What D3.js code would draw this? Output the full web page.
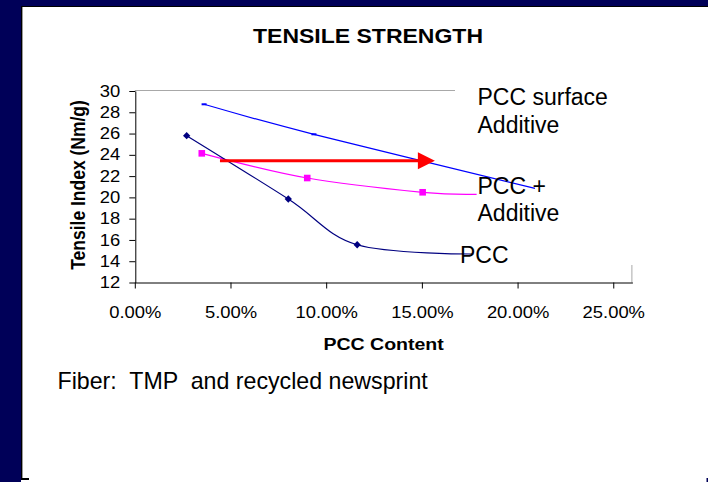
<!DOCTYPE html>
<html>
<head>
<meta charset="utf-8">
<script src="https://cdn.jsdelivr.net/npm/d3@7"></script>
<style>
  html, body { margin: 0; padding: 0; background: #fff; }
  svg { display: block; }
  text { font-family: "Liberation Sans", Arial, Helvetica, sans-serif; fill: #000; }
</style>
</head>
<body>
<svg id="chart" width="708" height="482"></svg>
<script>
// Tensile index (Nm/g) versus PCC content (fraction of furnish)
const xTicks = [0, 0.05, 0.10, 0.15, 0.20, 0.25];
const yTicks = [12, 14, 16, 18, 20, 22, 24, 26, 28, 30];

const pccX = [0.0271, 0.0802, 0.1162, 0.1769];
const pccY = [25.8, 19.85, 15.55, 14.68];

const additiveX = [0.035, 0.0901, 0.1504, 0.1786];
const additiveY = [24.14, 21.82, 20.48, 20.29];

const surfaceX = [0.0362, 0.0936, 0.2091];
const surfaceY = [28.75, 25.93, 20.85];

// Horizontal arrow: same tensile index reached at a higher PCC content
const arrowFrom = [0.0445, 23.45];
const arrowTo = [0.1568, 23.45];

const svg = d3.select("#chart");
const W = 708, H = 482;
const STRETCH = 1.15; // chart text is set slightly wide

// slide background and frame
svg.append("rect").attr("width", W).attr("height", H).attr("fill", "#fff");
svg.append("rect").attr("x", 0).attr("y", 0).attr("width", W).attr("height", 6).attr("fill", "#000058");
svg.append("rect").attr("x", 0).attr("y", 0).attr("width", 21).attr("height", H).attr("fill", "#000058");
svg.append("line").attr("x1", 21).attr("x2", W).attr("y1", 6.5).attr("y2", 6.5).attr("stroke", "#000").attr("stroke-width", 1);
svg.append("line").attr("x1", 21.5).attr("x2", 21.5).attr("y1", 6).attr("y2", 480).attr("stroke", "#000").attr("stroke-width", 1);
svg.append("line").attr("x1", 22.5).attr("x2", 22.5).attr("y1", 7).attr("y2", 478).attr("stroke", "#9a9a9a").attr("stroke-width", 1);
svg.append("rect").attr("x", 21).attr("y", 478).attr("width", 8).attr("height", 2).attr("fill", "#000");
svg.append("rect").attr("x", 706.5).attr("y", 478).attr("width", 1.5).attr("height", 4).attr("fill", "#000058");

const x = d3.scaleLinear().domain([0, 0.26]).range([134.8, 632.4]);
const y = d3.scaleLinear().domain([12, 30]).range([282.5, 91]);

// plot area border (partly hidden behind the series labels)
svg.append("line").attr("x1", x(0)).attr("x2", 455).attr("y1", y(30) - 0.5).attr("y2", y(30) - 0.5)
  .attr("stroke", "#a8a8a8").attr("stroke-width", 1);
svg.append("line").attr("x1", x(0.26) - 0.5).attr("x2", x(0.26) - 0.5).attr("y1", 265).attr("y2", y(12))
  .attr("stroke", "#a8a8a8").attr("stroke-width", 1);

// title
svg.append("text")
  .attr("transform", `translate(368,42.5) scale(${STRETCH},1)`)
  .attr("text-anchor", "middle")
  .attr("font-size", 20).attr("font-weight", "bold")
  .text("TENSILE STRENGTH");

// axes
const yAxis = d3.axisLeft(y).tickValues(yTicks).tickFormat(d3.format("d"))
  .tickSize(6).tickSizeOuter(0).tickPadding(7.2);
const gy = svg.append("g").attr("transform", `translate(${x(0) + 0.5},0)`).call(yAxis);

const xAxis = d3.axisBottom(x).tickValues(xTicks).tickFormat(d3.format(".2%"))
  .tickSize(6).tickSizeOuter(0).tickPadding(18);
const gx = svg.append("g").attr("transform", `translate(0,${y(12)})`).call(xAxis);

[gx, gy].forEach(g => {
  g.select(".domain").attr("stroke", "#000").attr("stroke-width", 1);
  g.selectAll(".tick line").attr("stroke", "#000").attr("stroke-width", 1);
  g.selectAll(".tick text")
    .attr("font-family", "Liberation Sans, Arial, sans-serif")
    .attr("font-size", 16).attr("fill", "#000")
    .attr("transform", `scale(${STRETCH},1)`);
});

// axis titles
svg.append("text")
  .attr("transform", `translate(${(x(0) + x(0.26)) / 2},350) scale(${STRETCH},1)`)
  .attr("text-anchor", "middle")
  .attr("font-size", 17).attr("font-weight", "bold")
  .text("PCC Content");

svg.append("text")
  .attr("transform", `translate(77.5,185) rotate(-90) scale(1,${STRETCH})`)
  .attr("text-anchor", "middle").attr("dy", "0.36em")
  .attr("font-size", 17.5).attr("font-weight", "bold")
  .text("Tensile Index (Nm/g)");

// series
const line = d3.line()
  .x(d => x(d[0])).y(d => y(d[1]))
  .curve(d3.curveCardinal.tension(0));

const series = [
  { xs: surfaceX, ys: surfaceY, color: "#0000ff", marker: "dash" },
  { xs: additiveX, ys: additiveY, color: "#ff00ff", marker: "square" },
  { xs: pccX, ys: pccY, color: "#000080", marker: "diamond" }
];

series.forEach(s => {
  const pts = s.xs.map((v, i) => [v, s.ys[i]]);
  svg.append("path").datum(pts)
    .attr("d", line)
    .attr("fill", "none").attr("stroke", s.color).attr("stroke-width", 1.2);

  // the last point of each series sits under its label and carries no marker
  const shown = pts.slice(0, -1);
  const g = svg.append("g");
  if (s.marker === "diamond") {
    g.selectAll("path").data(shown).join("path")
      .attr("d", d3.symbol(d3.symbolDiamond2, 34))
      .attr("transform", d => `translate(${x(d[0])},${y(d[1])})`)
      .attr("fill", s.color);
  } else if (s.marker === "square") {
    g.selectAll("rect").data(shown).join("rect")
      .attr("x", d => x(d[0]) - 3.3).attr("y", d => y(d[1]) - 3.3)
      .attr("width", 6.6).attr("height", 6.6)
      .attr("fill", s.color);
  } else {
    g.selectAll("rect").data(shown).join("rect")
      .attr("x", d => x(d[0]) - 2.5).attr("y", d => y(d[1]) - 1)
      .attr("width", 5).attr("height", 2)
      .attr("fill", s.color);
  }
});

// red arrow
const ax0 = x(arrowFrom[0]), ax1 = x(arrowTo[0]), ay = y(arrowFrom[1]);
const headLen = 17, headHalf = 8.5;
svg.append("line")
  .attr("x1", ax0).attr("x2", ax1 - headLen + 1).attr("y1", ay).attr("y2", ay)
  .attr("stroke", "#ff0000").attr("stroke-width", 3);
svg.append("path")
  .attr("d", `M${ax1},${ay} L${ax1 - headLen},${ay - headHalf} L${ax1 - headLen},${ay + headHalf} Z`)
  .attr("fill", "#ff0000");

// series labels
const labels = [
  { text: "PCC surface", x: 477.5, y: 105 },
  { text: "Additive", x: 477.5, y: 133 },
  { text: "PCC +", x: 477.5, y: 193.5 },
  { text: "Additive", x: 477.5, y: 220.5 },
  { text: "PCC", x: 460, y: 263 }
];
svg.append("g").selectAll("text").data(labels).join("text")
  .attr("x", d => d.x).attr("y", d => d.y)
  .attr("font-size", 23)
  .text(d => d.text);

// footnote
svg.append("text")
  .attr("x", 57.5).attr("y", 389)
  .attr("font-size", 23.2)
  .attr("xml:space", "preserve")
  .style("white-space", "pre")
  .text("Fiber:  TMP  and recycled newsprint");
</script>
</body>
</html>
